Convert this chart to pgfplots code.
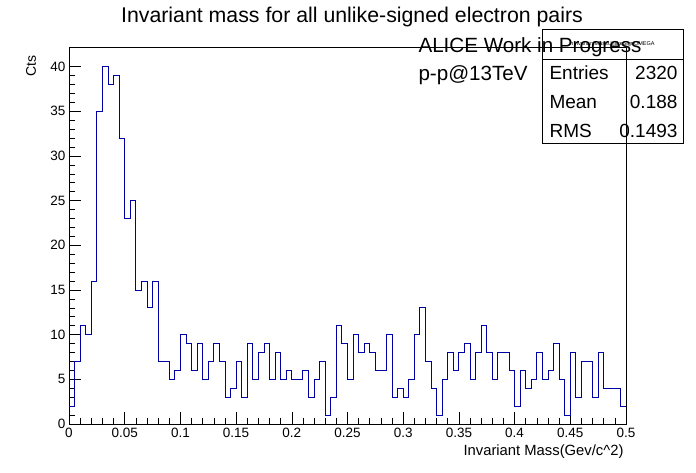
\documentclass[border=0pt]{standalone}
\usepackage{pgfplots}
\pgfplotsset{compat=1.18}
\usepackage{fontspec}
\setmainfont{Liberation Sans}
\begin{document}
\begin{tikzpicture}[x=1pt,y=1pt]
\path[use as bounding box,fill=white] (0,0) rectangle (696,472);
\begin{axis}[at={(69pt,48pt)},anchor=south west,scale only axis,width=557pt,height=377pt,
  xmin=0,xmax=0.5,ymin=0,ymax=42.2,
  axis line style={black,line width=0.8pt},
  xtick={0,0.05,...,0.5},minor x tick num=4,
  ytick={0,5,...,40},minor y tick num=4,
  xticklabels={0,0.05,0.1,0.15,0.2,0.25,0.3,0.35,0.4,0.45,0.5},
  tick align=inside,xtick pos=bottom,ytick pos=left,
  major tick length=12pt,minor tick length=6pt,
  tick style={black,line width=0.6pt},
  ticklabel style={font=\fontsize{13.5}{13.5}\selectfont},
  /pgf/number format/assume math mode=true,
  xticklabel style={yshift=-1pt},
]
\addplot[const plot,color=blue!65!black,line width=0.9pt] coordinates {
(0.000,2)(0.005,7)(0.010,11)(0.015,10)(0.020,16)(0.025,35)(0.030,40)(0.035,38)(0.040,39)(0.045,32)
(0.050,23)(0.055,25)(0.060,15)(0.065,16)(0.070,13)(0.075,16)(0.080,7)(0.085,7)(0.090,5)(0.095,6)
(0.100,10)(0.105,9)(0.110,6)(0.115,9)(0.120,5)(0.125,7)(0.130,9)(0.135,7)(0.140,3)(0.145,4)
(0.150,7)(0.155,3)(0.160,9)(0.165,5)(0.170,8)(0.175,9)(0.180,5)(0.185,8)(0.190,5)(0.195,6)
(0.200,5)(0.205,5)(0.210,6)(0.215,3)(0.220,5)(0.225,7)(0.230,1)(0.235,3)(0.240,11)(0.245,9)
(0.250,5)(0.255,10)(0.260,8)(0.265,9)(0.270,8)(0.275,6)(0.280,6)(0.285,10)(0.290,3)(0.295,4)
(0.300,3)(0.305,5)(0.310,10)(0.315,13)(0.320,7)(0.325,4)(0.330,1)(0.335,5)(0.340,8)(0.345,6)
(0.350,8)(0.355,9)(0.360,5)(0.365,8)(0.370,11)(0.375,8)(0.380,5)(0.385,8)(0.390,8)(0.395,6)
(0.400,2)(0.405,6)(0.410,4)(0.415,5)(0.420,8)(0.425,5)(0.430,6)(0.435,9)(0.440,5)(0.445,1)
(0.450,8)(0.455,3)(0.460,7)(0.465,7)(0.470,3)(0.475,8)(0.480,4)(0.485,4)(0.490,4)(0.495,2)(0.500,2)
};
\end{axis}
\node[font=\fontsize{21.3}{21.3}\selectfont] at (352,455) {Invariant mass for all unlike-signed electron pairs};
\node[font=\fontsize{14.8}{14.8}\selectfont,anchor=east] at (627,20) {Invariant Mass(Gev/c\^{}2)};
\node[font=\fontsize{14}{14}\selectfont,rotate=90,anchor=east] at (31,420) {Cts};
\node[font=\fontsize{20.6}{20.6}\selectfont,anchor=west] at (415,425) {ALICE Work in Progress};
\node[font=\fontsize{20.6}{20.6}\selectfont,anchor=west] at (415,397) {p-p@13TeV};
\draw[black,line width=0.8pt] (542,443) rectangle (683,329);
\draw[black,line width=0.8pt] (542,413) -- (683,413);
\node[font=\fontsize{5.5}{5.5}\selectfont] at (612.5,428) {hInvariantMassUnlikeSignOMEGA};
\begin{scope}[font=\fontsize{19}{19}\selectfont]
\node[anchor=west] at (546,399) {Entries};
\node[anchor=east] at (681,399) {2320};
\node[anchor=west] at (546,370) {Mean};
\node[anchor=east] at (681,370) {0.188};
\node[anchor=west] at (546,341) {RMS};
\node[anchor=east] at (681,341) {0.1493};
\end{scope}
\end{tikzpicture}
\end{document}
